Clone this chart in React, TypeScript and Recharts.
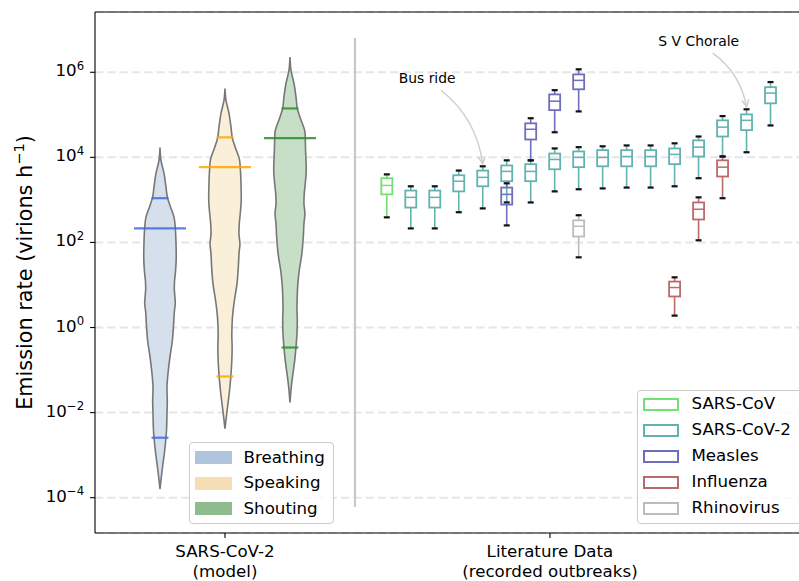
import React from "react";
import { ComposedChart, XAxis, YAxis, Scatter, CartesianGrid, ReferenceLine } from "recharts";

const FONT = "'DejaVu Sans', Verdana, sans-serif";
const W = 806;
const H = 581;

// axis ranges: y is emission rate (virions / h), log10 scale
const Y_MIN = Math.pow(10, -4.83);
const Y_MAX = Math.pow(10, 7.417);
const X_MAX = 10.94;
const Y_TICKS = [1e-4, 1e-2, 1, 1e2, 1e4, 1e6];
const X_TICKS = [2, 7];
const X_TICK_LABELS = [
  ["SARS-CoV-2", "(model)"],
  ["Literature Data", "(recorded outbreaks)"],
];

// ---- model violins ----
const MODES = ["Breathing", "Speaking", "Shouting"];
const MODE_COLOR = ["#b0c4de", "#f5deb3", "#8fbc8f"];
const MODE_FILL = ["#d6e0ec", "#faefd9", "#c7dec7"];
const MODE_LINE = ["#4169e1", "#ffa500", "#2a8f2a"];

// outline: [log10 emission rate, relative half width]
const BREATHING_SHAPE = [
  [4.23, 0], [3.93, 0.06], [3.62, 0.25], [3.3, 0.37], [3.07, 0.45], [2.83, 0.65],
  [2.6, 0.86], [2.36, 0.94], [2.05, 0.98], [1.66, 1.0], [1.34, 0.96], [1.11, 0.9],
  [0.91, 0.88], [0.71, 0.92], [0.56, 0.94], [0.36, 0.88], [0.09, 0.84], [-0.31, 0.76],
  [-0.7, 0.61], [-1.09, 0.49], [-1.4, 0.43], [-1.72, 0.45], [-2.03, 0.43], [-2.35, 0.41],
  [-2.58, 0.37], [-2.89, 0.29], [-3.21, 0.18], [-3.52, 0.08], [-3.8, 0],
];
const SPEAKING_SHAPE = [
  [5.62, 0], [5.34, 0.06], [5.03, 0.25], [4.71, 0.37], [4.46, 0.45], [4.24, 0.63],
  [3.97, 0.88], [3.76, 0.94], [3.46, 0.98], [2.99, 1.0], [2.68, 0.94], [2.44, 0.88],
  [2.2, 0.86], [1.97, 0.92], [1.73, 0.86], [1.42, 0.82], [1.03, 0.74], [0.64, 0.58],
  [0.24, 0.46], [-0.15, 0.42], [-0.46, 0.44], [-0.78, 0.42], [-1.15, 0.36], [-1.48, 0.28],
  [-1.8, 0.18], [-2.11, 0.08], [-2.38, 0],
];
const SHOUTING_SHAPE = [
  [6.36, 0], [6.05, 0.06], [5.73, 0.25], [5.42, 0.37], [5.15, 0.45], [4.91, 0.65],
  [4.64, 0.9], [4.44, 0.94], [4.17, 0.96], [3.69, 1.0], [3.38, 0.94], [3.15, 0.88],
  [2.91, 0.86], [2.68, 0.92], [2.44, 0.86], [2.13, 0.82], [1.73, 0.73], [1.34, 0.57],
  [0.95, 0.47], [0.48, 0.43], [0.17, 0.45], [-0.15, 0.43], [-0.46, 0.37], [-0.78, 0.29],
  [-1.09, 0.18], [-1.4, 0.08], [-1.76, 0],
];
const MODE_SHAPES = [BREATHING_SHAPE, SPEAKING_SHAPE, SHOUTING_SHAPE];
const MODE_MEAN = [2.33, 3.77, 4.45];
const MODE_P05 = [-2.59, -1.15, -0.47];
const MODE_P95 = [3.04, 4.47, 5.15];

const VIOLIN_HALF = 0.25;
const MEAN_HALF = 0.4;
const QUANT_HALF = 0.13;

// ---- literature boxes ----
const VIRUSES = ["SARS-CoV", "SARS-CoV-2", "Measles", "Influenza", "Rhinovirus"];
const VIRUS_COLOR = ["#72e072", "#62b3b0", "#6e6ebd", "#bb6a6a", "#bcbcbc"];

// [slot, log10 of: low whisker, Q1, median, Q3, high whisker]
const SARS_COV_BOXES = [[0, 2.59, 3.13, 3.34, 3.51, 3.6]];
const SARS_COV_2_BOXES = [
  [1, 2.33, 2.82, 3.06, 3.22, 3.32],
  [2, 2.33, 2.82, 3.06, 3.22, 3.32],
  [3, 2.71, 3.2, 3.44, 3.58, 3.69],
  [4, 2.8, 3.32, 3.53, 3.69, 3.79],
  [5, 2.94, 3.44, 3.67, 3.81, 3.93],
  [6, 2.94, 3.44, 3.67, 3.84, 3.93],
  [7, 3.2, 3.72, 3.95, 4.09, 4.21],
  [8, 3.25, 3.77, 4.0, 4.14, 4.24],
  [9, 3.27, 3.79, 4.0, 4.17, 4.26],
  [10, 3.29, 3.79, 4.02, 4.17, 4.28],
  [11, 3.29, 3.79, 4.02, 4.17, 4.28],
  [12, 3.32, 3.84, 4.07, 4.21, 4.33],
  [13, 3.51, 4.02, 4.24, 4.4, 4.49],
  [14, 4.02, 4.49, 4.71, 4.87, 4.97],
  [15, 4.12, 4.64, 4.87, 5.01, 5.13],
  [16, 4.75, 5.27, 5.51, 5.65, 5.77],
];
const MEASLES_BOXES = [
  [5, 2.4, 2.89, 3.13, 3.29, 3.39],
  [6, 3.93, 4.42, 4.66, 4.8, 4.92],
  [7, 4.59, 5.11, 5.32, 5.48, 5.58],
  [8, 5.08, 5.6, 5.81, 5.95, 6.07],
];
const INFLUENZA_BOXES = [
  [12, 0.28, 0.73, 0.94, 1.08, 1.18],
  [13, 2.05, 2.54, 2.78, 2.94, 3.06],
  [14, 3.04, 3.55, 3.77, 3.93, 4.02],
];
const RHINOVIRUS_BOXES = [[8, 1.65, 2.14, 2.38, 2.52, 2.64]];
const VIRUS_BOXES = [SARS_COV_BOXES, SARS_COV_2_BOXES, MEASLES_BOXES, INFLUENZA_BOXES, RHINOVIRUS_BOXES];

const BOX_X0 = 4.49;
const BOX_STEP = 0.369;
const BOX_HALF_PX = 5.5;
const CAP_HALF_PX = 3;

const ANNOTATIONS = [
  { label: "Bus ride", text: [5.11, 5.86], slot: 4 },
  { label: "S V Chorale", text: [9.29, 6.73], slot: 15 },
];

const SEPARATOR_X = 4;

const pow10 = (e: number) => Math.pow(10, e);
const slotX = (slot: number) => BOX_X0 + slot * BOX_STEP;
const noShape = () => <g />;

function sidePath(pts: any[]) {
  let d = "";
  for (let i = 0; i < pts.length - 1; i++) {
    const p0 = pts[i - 1] ?? pts[i];
    const p1 = pts[i];
    const p2 = pts[i + 1];
    const p3 = pts[i + 2] ?? p2;
    const c1x = p1.x + (p2.x - p0.x) / 6;
    const c1y = p1.y + (p2.y - p0.y) / 6;
    const c2x = p2.x - (p3.x - p1.x) / 6;
    const c2y = p2.y - (p3.y - p1.y) / 6;
    d += ` C${c1x},${c1y} ${c2x},${c2y} ${p2.x},${p2.y}`;
  }
  return d;
}

function violinPoints(shape: number[][], center: number) {
  const left = shape.map(([e, w]) => ({ x: center - w * VIOLIN_HALF, y: pow10(e) }));
  const right = [...shape].reverse().map(([e, w]) => ({ x: center + w * VIOLIN_HALF, y: pow10(e) }));
  return [...left, ...right];
}

function violinLine(fill: string) {
  return (p: any) => {
    const pts = p.points;
    const n = pts.length / 2;
    const left = pts.slice(0, n);
    const right = pts.slice(n);
    const d = `M${left[0].x},${left[0].y}` + sidePath(left) + sidePath(right) + "Z";
    return <path d={d} fill={fill} stroke="#777" strokeWidth={1.6} />;
  };
}

function modeLinePoints(i: number) {
  const c = i + 1;
  return [
    { x: c - MEAN_HALF, y: pow10(MODE_MEAN[i]) }, { x: c + MEAN_HALF, y: pow10(MODE_MEAN[i]) },
    { x: c - QUANT_HALF, y: pow10(MODE_P95[i]) }, { x: c + QUANT_HALF, y: pow10(MODE_P95[i]) },
    { x: c - QUANT_HALF, y: pow10(MODE_P05[i]) }, { x: c + QUANT_HALF, y: pow10(MODE_P05[i]) },
  ];
}

function segmentsLine(color: string) {
  return (p: any) => {
    const pts = p.points;
    const segs = [];
    for (let k = 0; k + 1 < pts.length; k += 2) {
      segs.push(
        <line key={k} x1={pts[k].x} y1={pts[k].y} x2={pts[k + 1].x} y2={pts[k + 1].y}
          stroke={color} strokeWidth={2.2} strokeOpacity={0.85} />
      );
    }
    return <g>{segs}</g>;
  };
}

function boxPoints(boxes: number[][]) {
  const out: { x: number; y: number }[] = [];
  boxes.forEach(([slot, ...stats]) => {
    stats.forEach((e) => out.push({ x: slotX(slot), y: pow10(e) }));
  });
  return out;
}

function boxLine(color: string) {
  return (p: any) => {
    const pts = p.points;
    const items = [];
    for (let k = 0; k + 4 < pts.length; k += 5) {
      const [lo, q1, med, q3, hi] = pts.slice(k, k + 5);
      const x = lo.x;
      items.push(
        <g key={k}>
          <line x1={x} x2={x} y1={lo.y} y2={q1.y} stroke={color} strokeWidth={1.6} />
          <line x1={x} x2={x} y1={q3.y} y2={hi.y} stroke={color} strokeWidth={1.6} />
          <rect x={x - BOX_HALF_PX} y={q3.y} width={2 * BOX_HALF_PX} height={q1.y - q3.y}
            fill="none" stroke={color} strokeWidth={1.8} />
          <line x1={x - BOX_HALF_PX} x2={x + BOX_HALF_PX} y1={med.y} y2={med.y} stroke={color} strokeWidth={1.5} />
          <line x1={x - CAP_HALF_PX} x2={x + CAP_HALF_PX} y1={lo.y} y2={lo.y} stroke="#111" strokeWidth={2.2} />
          <line x1={x - CAP_HALF_PX} x2={x + CAP_HALF_PX} y1={hi.y} y2={hi.y} stroke="#111" strokeWidth={2.2} />
        </g>
      );
    }
    return <g>{items}</g>;
  };
}

function annotationPoints(a: { text: number[]; slot: number }) {
  const box = SARS_COV_2_BOXES.find((b) => b[0] === a.slot)!;
  return [
    { x: a.text[0], y: pow10(a.text[1]) },
    { x: slotX(a.slot), y: pow10(box[5]) },
  ];
}

function annotationLine(label: string) {
  return (p: any) => {
    const [t, g] = p.points;
    const sx = t.x + 14;
    const sy = t.y + 12;
    const ex = g.x;
    const ey = g.y - 2.5;
    const dx = ex - sx;
    const dy = ey - sy;
    const cx = (sx + ex) / 2 + 0.2 * dy;
    const cy = (sy + ey) / 2 - 0.2 * dx;
    const ux0 = ex - cx;
    const uy0 = ey - cy;
    const len = Math.hypot(ux0, uy0);
    const ux = ux0 / len;
    const uy = uy0 / len;
    const bx = ex - ux * 7;
    const by = ey - uy * 7;
    const head = `M${bx - uy * 3.5},${by + ux * 3.5} L${ex},${ey} L${bx + uy * 3.5},${by - ux * 3.5}`;
    return (
      <g>
        <path d={`M${sx},${sy} Q${cx},${cy} ${ex},${ey}`} fill="none" stroke="#cfcfcf" strokeWidth={1.5} />
        <path d={head} fill="none" stroke="#cfcfcf" strokeWidth={1.5} />
        <text x={t.x} y={t.y} textAnchor="middle" dominantBaseline="central"
          fontFamily={FONT} fontSize={13.9} fill="#000">{label}</text>
      </g>
    );
  };
}

function XTick(props: any) {
  const { x, y, payload } = props;
  const lines = X_TICK_LABELS[X_TICKS.indexOf(payload.value)] ?? [];
  return (
    <text x={x} y={y} textAnchor="middle" fontFamily={FONT} fontSize={16.67} fill="#000">
      {lines.map((l, k) => (
        <tspan key={k} x={x} dy={k === 0 ? 19 : 20}>{l}</tspan>
      ))}
    </text>
  );
}

function YTick(props: any) {
  const { x, y, payload } = props;
  const exp = Math.round(Math.log10(payload.value));
  return (
    <text x={x - 6} y={y + 4} textAnchor="end" fontFamily={FONT} fontSize={16.67} fill="#000">
      10<tspan dy={-6.5} fontSize={11.7}>{exp < 0 ? `\u2212${-exp}` : `${exp}`}</tspan>
    </text>
  );
}

function YLabel() {
  return (
    <text transform="rotate(-90)" x={-272.5} y={31.7} textAnchor="middle"
      fontFamily={FONT} fontSize={20.8} fill="#000">
      Emission rate (virions h<tspan dy={-8} fontSize={14.6}>{"\u22121"}</tspan>
      <tspan dy={8}>)</tspan>
    </text>
  );
}

const legendBox: React.CSSProperties = {
  position: "absolute",
  boxSizing: "border-box",
  border: "1px solid #cccccc",
  borderRadius: 4,
  background: "rgba(255,255,255,0.8)",
  fontFamily: FONT,
  fontSize: 16.67,
  color: "#000",
};

function ModeLegend() {
  return (
    <div style={{ ...legendBox, left: 189, top: 442, width: 145, height: 82 }}>
      {MODES.map((m, i) => (
        <div key={m} style={{ position: "absolute", left: 5, top: 4.5 + i * 25.5, height: 20, display: "flex", alignItems: "center" }}>
          <span style={{ width: 37, height: 13, background: MODE_COLOR[i] }} />
          <span style={{ marginLeft: 11.5, lineHeight: "20px", whiteSpace: "nowrap" }}>{m}</span>
        </div>
      ))}
    </div>
  );
}

function VirusLegend() {
  return (
    <div style={{ ...legendBox, left: 637, top: 390, width: 175, height: 134 }}>
      {VIRUSES.map((v, i) => (
        <div key={v} style={{ position: "absolute", left: 5, top: 3 + i * 26, height: 20, display: "flex", alignItems: "center" }}>
          <span style={{ boxSizing: "border-box", width: 36, height: 13, border: `2px solid ${VIRUS_COLOR[i]}` }} />
          <span style={{ marginLeft: 12.5, lineHeight: "20px", whiteSpace: "nowrap" }}>{v}</span>
        </div>
      ))}
    </div>
  );
}

export default function App() {
  const axisStroke = { stroke: "#000", strokeWidth: 1.1 };
  return (
    <div style={{ position: "absolute", left: 0, top: 0, width: 799, height: 581, overflow: "hidden", background: "#fff" }}>
      <ComposedChart width={W} height={H} margin={{ top: 12, right: 0, bottom: 0, left: 0 }} style={{ fontFamily: FONT }}>
        <CartesianGrid vertical={false} stroke="#e6e6e6" strokeWidth={2} strokeDasharray="8.3 4" />
        <XAxis type="number" dataKey="x" domain={[0, X_MAX]} ticks={X_TICKS} interval={0} allowDataOverflow
          height={48} tickSize={4.9} tickMargin={0} tick={<XTick />} axisLine={axisStroke} tickLine={axisStroke} />
        <YAxis type="number" dataKey="y" scale="log" domain={[Y_MIN, Y_MAX]} ticks={Y_TICKS} interval={0} allowDataOverflow
          width={95} tickSize={4.9} tickMargin={0} tick={<YTick />} axisLine={axisStroke} tickLine={axisStroke}
          label={<YLabel />} />
        <ReferenceLine y={Y_MAX} stroke="#000" strokeWidth={1.1} />
        <ReferenceLine
          segment={[
            { x: SEPARATOR_X, y: pow10(-4.83 + 0.05 * 12.247) },
            { x: SEPARATOR_X, y: pow10(-4.83 + 0.95 * 12.247) },
          ]}
          stroke="#c8c8c8" strokeWidth={2.2}
        />
        {MODE_SHAPES.map((shape, i) => (
          <Scatter key={`v-${MODES[i]}`} name={MODES[i]} data={violinPoints(shape, i + 1)}
            isAnimationActive={false} shape={noShape} line={violinLine(MODE_FILL[i])} />
        ))}
        {MODES.map((m, i) => (
          <Scatter key={`l-${m}`} data={modeLinePoints(i)} isAnimationActive={false}
            shape={noShape} line={segmentsLine(MODE_LINE[i])} />
        ))}
        {VIRUS_BOXES.map((boxes, i) => (
          <Scatter key={VIRUSES[i]} name={VIRUSES[i]} data={boxPoints(boxes)} isAnimationActive={false}
            shape={noShape} line={boxLine(VIRUS_COLOR[i])} />
        ))}
        {ANNOTATIONS.map((a) => (
          <Scatter key={a.label} data={annotationPoints(a)} isAnimationActive={false}
            shape={noShape} line={annotationLine(a.label)} />
        ))}
      </ComposedChart>
      <ModeLegend />
      <VirusLegend />
    </div>
  );
}
